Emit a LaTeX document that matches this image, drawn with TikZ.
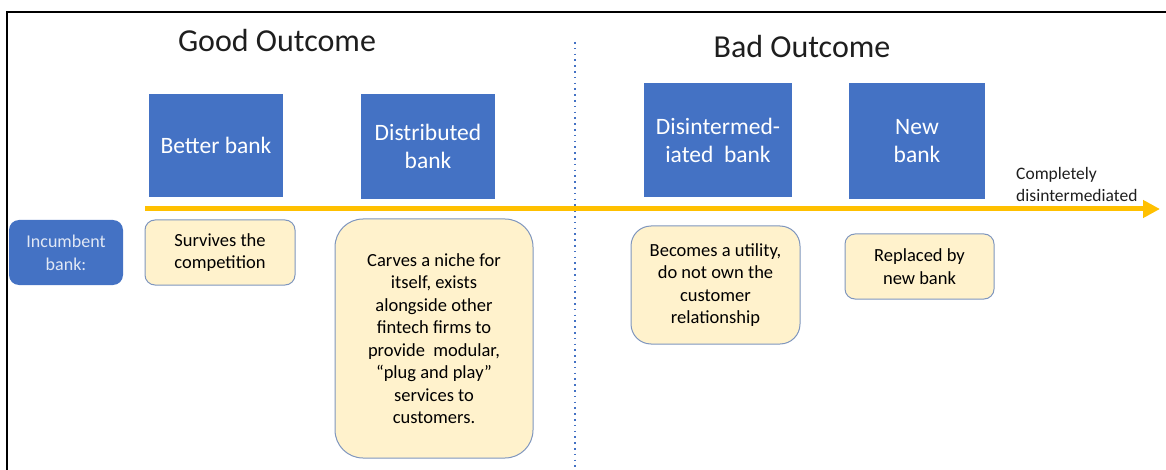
\documentclass[tikz,border=0pt]{standalone}
\usepackage{fontspec}
\setmainfont{Carlito}
\usetikzlibrary{positioning,arrows.meta}
\definecolor{boxblue}{RGB}{68,114,196}
\definecolor{cream}{RGB}{255,242,204}
\definecolor{creamedge}{RGB}{127,150,190}
\definecolor{arrowgold}{RGB}{255,192,0}
\definecolor{textdark}{RGB}{30,30,30}

\begin{document}
\begin{tikzpicture}[
  x=1pt, y=-1pt,
  title/.style = {
    text = textdark,
    font = \fontsize{32}{36}\selectfont,
  },
  bank/.style = {
    rectangle,
    fill = boxblue,
    text = white,
    align = center,
    inner sep = 0pt,
    font = \fontsize{23.5}{28}\selectfont,
  },
  note/.style = {
    draw = creamedge,
    line width = 1pt,
    rectangle,
    rounded corners = 10pt,
    fill = cream,
    text = black,
    align = center,
    inner sep = 0pt,
    font = \fontsize{18.5}{22.5}\selectfont,
  },
  >={Triangle[length=17pt,width=17pt]},
]

  \useasboundingbox (0,0) rectangle (1166,470);

  % frame
  \coordinate (tl) at (7,12);
  \coordinate (tr) at (1166,12);
  \coordinate (bl) at (7,470);
  \draw[line width=2pt] (tr) -- (tl) -- (bl);

  % divider
  \coordinate (dtop) at (575,42);
  \coordinate (dbot) at (575,470);
  \draw[boxblue,line width=1.6pt,dash pattern=on 1.6pt off 4.2pt] (dtop) -- (dbot);

  % headings
  \node[title] (good) at (277,41) {Good Outcome};
  \node[title] (bad) at (802,47) {Bad Outcome};

  % outcome banks
  \node[bank,minimum width=134,minimum height=103] (better) at (216,145.5) {Better bank};
  \node[bank,minimum width=134,minimum height=105] (distrib) at (428,146.5) {Distributed\\bank};
  \node[bank,minimum width=148,minimum height=114] (disint) at (718,140) {Disintermed-\\iated\ \ bank};
  \node[bank,minimum width=136,minimum height=116] (newbank) at (917,141) {New\\bank};

  % time line
  \coordinate (astart) at (145,209);
  \coordinate (aend) at (1160,209);
  \draw[->,arrowgold,line width=5pt] (astart) -- (aend);
  \node[align=left,anchor=south west,inner sep=0pt,text=textdark,
        font=\fontsize{17.5}{22}\selectfont] (complete) at (1016,202)
        {Completely\\disintermediated};

  % incumbent and notes
  \node[bank,rounded corners=10pt,minimum width=114,minimum height=65,
        text={rgb,255:red,225;green,232;blue,245},
        font=\fontsize{18}{23}\selectfont] (incumbent) at (66,252.5) {Incumbent\\bank:};
  \node[note,minimum width=150,minimum height=65] (survives) at (220,252.5)
        {Survives the\\competition};
  \node[note,rounded corners=28pt,minimum width=198,minimum height=239] (carves) at (434,338.5)
        {Carves a niche for\\itself, exists\\alongside other\\fintech firms to\\provide\ \ modular,\\“plug and play”\\services to\\customers.};
  \node[note,rounded corners=20pt,minimum width=169,minimum height=118] (utility) at (715.5,285)
        {Becomes a utility,\\do not own the\\customer\\relationship};
  \node[note,minimum width=149,minimum height=65] (replaced) at (919.5,266.5)
        {Replaced by\\new bank};

\end{tikzpicture}
\end{document}
